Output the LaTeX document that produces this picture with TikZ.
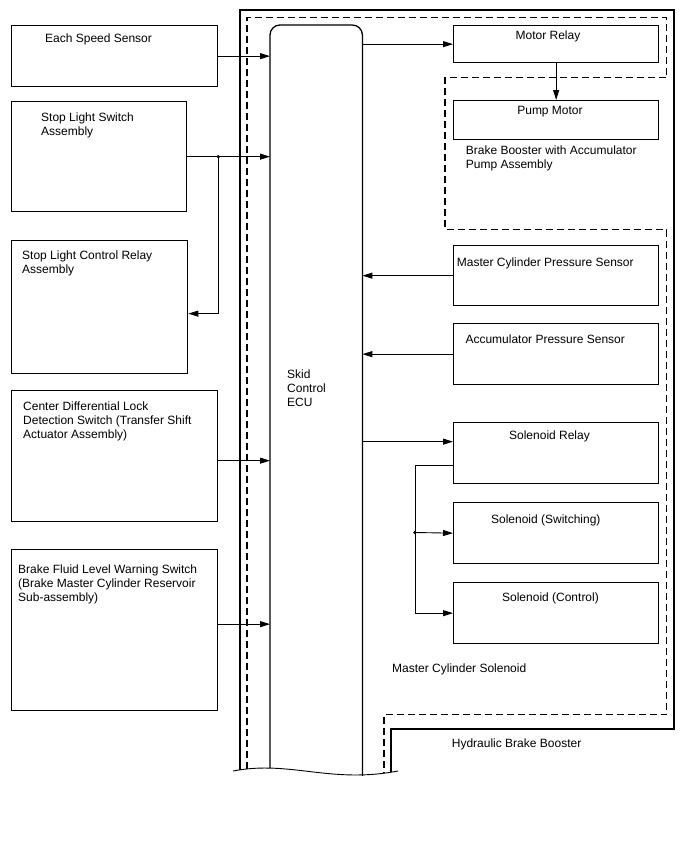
\documentclass[tikz,border=0pt]{standalone}
\usepackage{fontspec}
\setmainfont{Liberation Sans}
\usetikzlibrary{arrows.meta,positioning,calc}

\begin{document}
\begin{tikzpicture}[x=1pt, y=-1pt,
  box/.style={draw, line width=1.3pt, minimum width=205pt, minimum height=61pt,
              anchor=north west, inner sep=0pt},
  ar/.style={-{Triangle[length=10pt,width=6pt]}, line width=0.9pt},
  lbl/.style={font=\fontsize{12}{14}\selectfont, inner sep=0pt, align=left},
  frame/.style={line width=1.3pt},
  zone/.style={line width=1.3pt, dash pattern=on 7pt off 4pt}
]
\useasboundingbox (0,0) rectangle (688,852);

% --- housings -------------------------------------------------------------
\draw[frame] (240,769.5) -- (240,10) -- (674,10) -- (674,729) -- (391,729) -- (391,772);
\draw[zone]  (247,769) -- (247,17.5) -- (666.5,17.5) -- (666.5,77.5) -- (445,77.5)
             -- (445,229.5) -- (666.5,229.5) -- (666.5,714.5) -- (384,714.5) -- (384,773);
\draw[line width=0.9pt] (233,771) .. controls (290,760) and (330,784) .. (398,771);

% --- ECU ------------------------------------------------------------------
\node[lbl, minimum width=92pt, minimum height=746pt, anchor=north west] (ecu) at (270,25) {};
\draw[frame, rounded corners=10pt] ([yshift=3.5pt]ecu.south west) -- (ecu.north west)
  -- (ecu.north east) -- ([yshift=-4.5pt]ecu.south east);
\node[lbl, anchor=base west] (ecut) at (287,406.7) {Skid\\Control\\ECU};

% --- inputs (left) --------------------------------------------------------
\node[box, minimum width=206pt]                      (ess) at (11,25)  {};
\node[box, minimum width=175pt, minimum height=110pt] (sls) at (11,101) {};
\node[box, minimum width=176pt, minimum height=133pt] (slc) at (11,240) {};
\node[box, minimum width=206pt, minimum height=131pt] (cdl) at (11,390) {};
\node[box, minimum width=206pt, minimum height=161pt] (bfl) at (11,549) {};

\node[lbl, anchor=base west] (esst) at (45,42.5)  {Each Speed Sensor};
\node[lbl, anchor=base west] (slst) at (41,135)   {Stop Light Switch\\Assembly};
\node[lbl, anchor=base west] (slct) at (22,273)   {Stop Light Control Relay\\Assembly};
\node[lbl, anchor=base west] (cdlt) at (23,438.7) {Center Differential Lock\\Detection Switch (Transfer Shift\\Actuator Assembly)};
\node[lbl, anchor=base west] (bflt) at (18,601.7) {Brake Fluid Level Warning Switch\\(Brake Master Cylinder Reservoir\\Sub-assembly)};

\coordinate (jsl) at (sls.east -| ess.east);
\draw[ar] (ess.east) -- (ess.east -| ecu.west);
\draw[ar] (sls.east) -- (sls.east -| ecu.west);
\draw[ar] (jsl) |- ([yshift=-6.5pt]slc.east);
\fill (jsl) circle (1.8pt);
\draw[ar] ([yshift=-4.5pt]cdl.east) -- ([yshift=-4.5pt]cdl.east -| ecu.west);
\draw[ar] ([yshift=6pt]bfl.east) -- ([yshift=6pt]bfl.east -| ecu.west);

% --- hydraulic unit (right) -----------------------------------------------
\node[box, minimum height=37pt] (mrl) at (453,25)  {};
\node[box, minimum height=39pt] (pmp) at (453,100) {};
\node[box, minimum height=60pt] (mcp) at (453,245) {};
\node[box]                      (acc) at (453,323) {};
\node[box]                      (srl) at (453,422) {};
\node[box]                      (ssw) at (453,502) {};
\node[box]                      (sct) at (453,582) {};

\node[lbl, anchor=base] (mrlt) at (548,39.3)   {Motor Relay};
\node[lbl, anchor=base] (pmpt) at (550,114.3)  {Pump Motor};
\node[lbl, anchor=base west] (bbat) at (465.7,168) {Brake Booster with Accumulator\\Pump Assembly};
\node[lbl, anchor=base west] (mcpt) at (456.7,266.7) {Master Cylinder Pressure Sensor};
\node[lbl, anchor=base west] (acct) at (465.3,343.7) {Accumulator Pressure Sensor};
\node[lbl, anchor=base] (srlt) at (549.5,439.7) {Solenoid Relay};
\node[lbl, anchor=base] (sswt) at (545.8,523.3) {Solenoid (Switching)};
\node[lbl, anchor=base] (sctt) at (550.5,601.7) {Solenoid (Control)};
\node[lbl, anchor=base west] (mcst) at (392,672.3) {Master Cylinder Solenoid};
\node[lbl, anchor=base west] (hbbt) at (451.7,747.3) {Hydraulic Brake Booster};

\draw[ar] (mrl.west -| ecu.east) -- (mrl.west);
\draw[ar] (mrl.south) -- (pmp.north);
\draw[ar] (mcp.west) -- (mcp.west -| ecu.east);
\draw[ar] (acc.west) -- (acc.west -| ecu.east);
\coordinate (srin) at ([yshift=11.5pt]srl.west);
\draw[ar] (srin -| ecu.east) -- (srin);
\coordinate (jsol) at (415,532.5);
\draw[ar] ([yshift=-12pt]srl.west) -| (jsol |- sct.west) -- (sct.west);
\draw[ar] (jsol) -- (ssw.west);
\fill (jsol) circle (1.8pt);
\end{tikzpicture}
\end{document}
